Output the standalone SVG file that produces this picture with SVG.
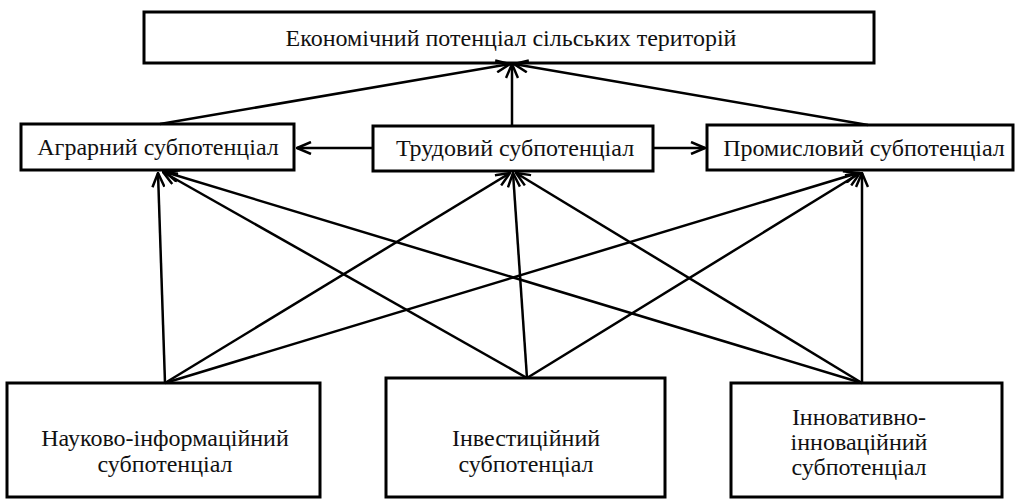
<svg xmlns="http://www.w3.org/2000/svg" width="1016" height="500" viewBox="0 0 1016 500">
<style>
.box{fill:#fff;stroke:#000;stroke-width:3}
.t{font-family:"Liberation Serif","Times New Roman","DejaVu Serif",serif;font-size:24px;fill:#111;text-anchor:middle}
.c{fill:none;stroke:#000;stroke-width:2.5}
</style>
<defs>
<marker id="a" viewBox="0 0 16 14" refX="15" refY="7" markerWidth="16" markerHeight="14" markerUnits="userSpaceOnUse" orient="auto">
<path d="M1,1 L15,7 L1,13" fill="none" stroke="#000" stroke-width="2.5"/>
</marker>
</defs>
<rect width="1016" height="500" fill="#fff"/>
<g id="top">
<rect class="box" x="144" y="12" width="730" height="51"/>
<text class="t" x="511" y="46">Економічний потенціал сільських територій</text>
</g>
<g id="agrar">
<rect class="box" x="21" y="124" width="273" height="46"/>
<text class="t" x="158" y="155">Аграрний субпотенціал</text>
</g>
<g id="trud">
<rect class="box" x="373" y="126" width="280" height="45"/>
<text class="t" x="515" y="156">Трудовий субпотенціал</text>
</g>
<g id="prom">
<rect class="box" x="707" y="125" width="306" height="45"/>
<text class="t" x="864" y="156">Промисловий субпотенціал</text>
</g>
<g id="nauk">
<rect class="box" x="7" y="383" width="313" height="114"/>
<text class="t" x="165" y="446">Науково-інформаційний</text>
<text class="t" x="165" y="472">субпотенціал</text>
</g>
<g id="invest">
<rect class="box" x="386" y="378" width="279" height="119"/>
<text class="t" x="526" y="446">Інвестиційний</text>
<text class="t" x="526" y="472">субпотенціал</text>
</g>
<g id="innov">
<rect class="box" x="731" y="383" width="271" height="114"/>
<text class="t" x="859" y="425">Інновативно-</text>
<text class="t" x="859" y="450">інноваційний</text>
<text class="t" x="859" y="475">субпотенціал</text>
</g>
<g id="connectors" class="c">
<line class="c" x1="160" y1="124" x2="510" y2="64" marker-end="url(#a)"/>
<line class="c" x1="512" y1="126" x2="512" y2="64" marker-end="url(#a)"/>
<line class="c" x1="868" y1="125" x2="514" y2="64" marker-end="url(#a)"/>
<line class="c" x1="373" y1="148" x2="297" y2="148" marker-end="url(#a)"/>
<line class="c" x1="653" y1="148" x2="705" y2="148" marker-end="url(#a)"/>
<line class="c" x1="165" y1="383" x2="158" y2="173" marker-end="url(#a)"/>
<line class="c" x1="165" y1="383" x2="510" y2="173" marker-end="url(#a)"/>
<line class="c" x1="165" y1="383" x2="858" y2="173" marker-end="url(#a)"/>
<line class="c" x1="527" y1="378" x2="163" y2="172" marker-end="url(#a)"/>
<line class="c" x1="527" y1="378" x2="513" y2="173" marker-end="url(#a)"/>
<line class="c" x1="527" y1="378" x2="860" y2="173" marker-end="url(#a)"/>
<line class="c" x1="862" y1="383" x2="165" y2="172" marker-end="url(#a)"/>
<line class="c" x1="862" y1="383" x2="516" y2="173" marker-end="url(#a)"/>
<line class="c" x1="862" y1="383" x2="862" y2="173" marker-end="url(#a)"/>
</g>
</svg>
